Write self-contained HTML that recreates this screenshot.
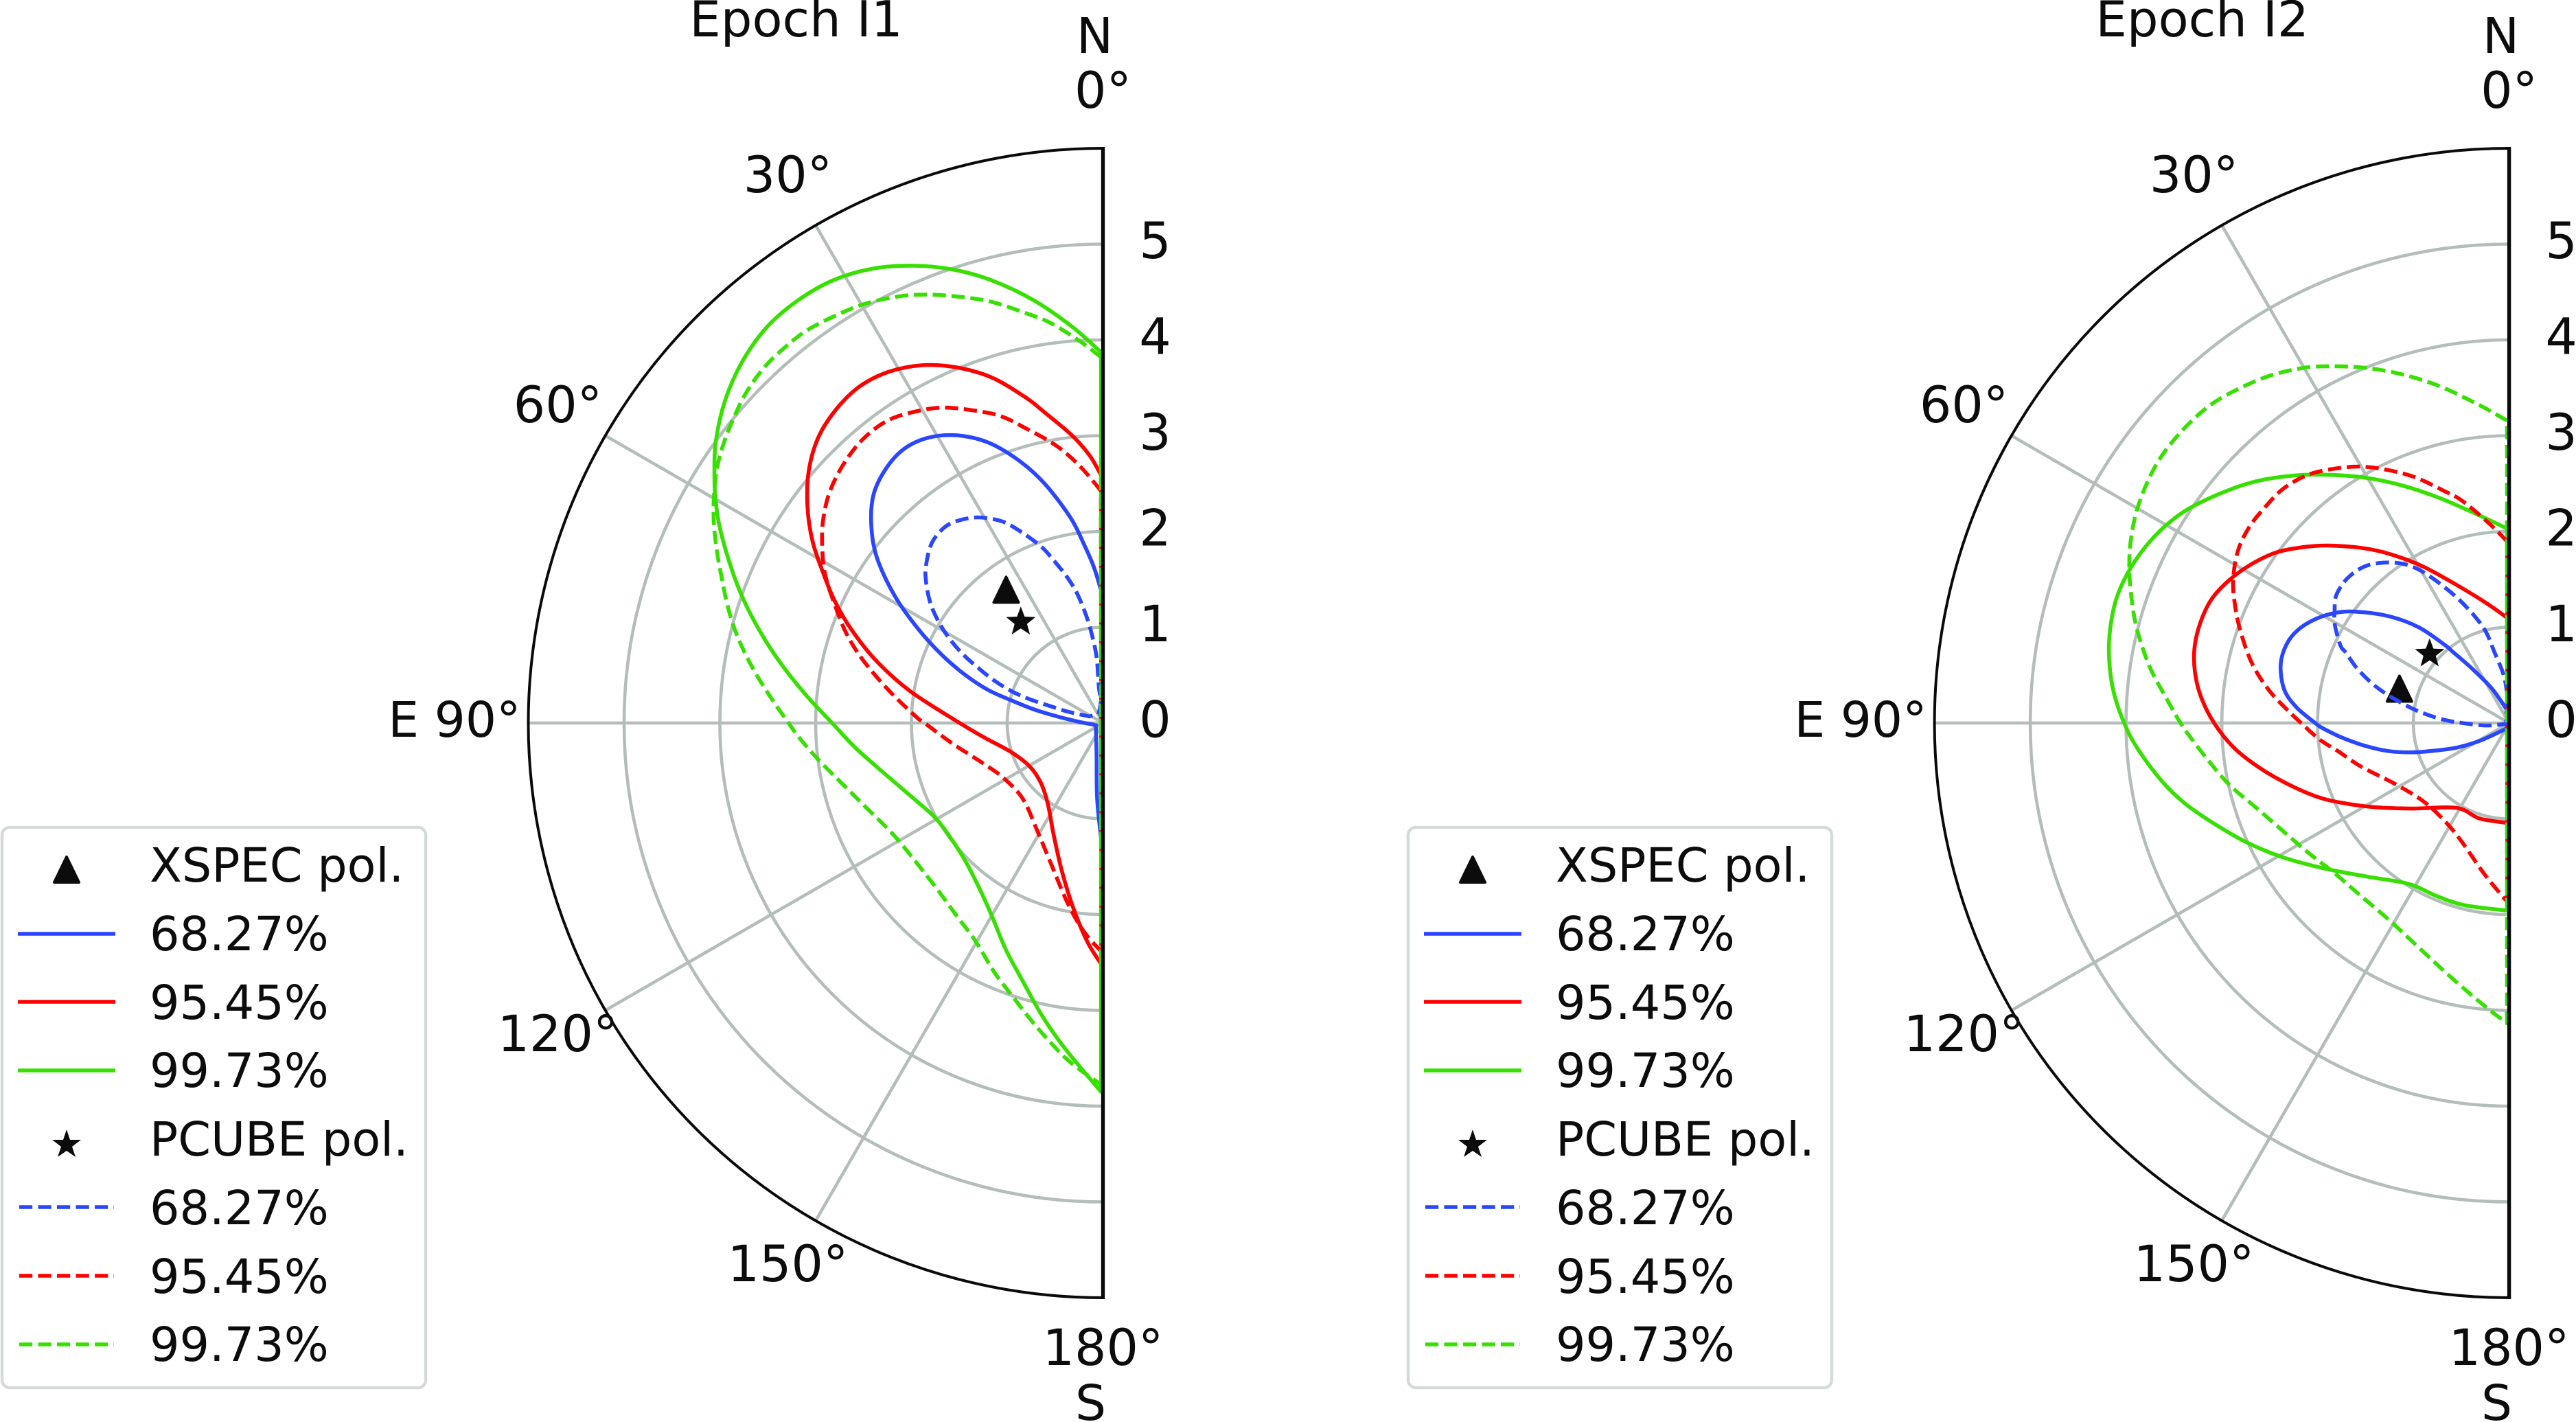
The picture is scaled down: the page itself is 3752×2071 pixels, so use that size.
<!DOCTYPE html>
<html lang="en">
<head>
<meta charset="utf-8">
<title>Polarization contours Epoch I1 and I2</title>
<style>
html,body{margin:0;padding:0;background:#fff;}
svg{display:block;}
text{font-family:"DejaVu Sans","Liberation Sans",sans-serif;fill:#0c0c0c;}
.leg{font-size:68.4px;}
</style>
</head>
<body>
<svg id="chart" xmlns="http://www.w3.org/2000/svg" width="3752" height="2071" viewBox="0 0 3752 2071">
<rect x="0" y="0" width="3752" height="2071" fill="#ffffff"/>
<g id="panels"></g>

<g>
<rect x="3" y="1205" width="617" height="816" rx="11" fill="#fff" stroke="#d3dbd9" stroke-width="4.4"/>
<polygon points="97,1248 79,1285 115,1285" fill="#0c0c0c" stroke="#0c0c0c" stroke-width="4" stroke-linejoin="round"/>
<text class="leg" x="218" y="1284">XSPEC pol.</text>
<line x1="26" x2="168" y1="1360" y2="1360" stroke="#2a46ff" stroke-width="5.6"/>
<text class="leg" x="218" y="1384">68.27%</text>
<line x1="26" x2="168" y1="1459" y2="1459" stroke="#ff0000" stroke-width="5.6"/>
<text class="leg" x="218" y="1484">95.45%</text>
<line x1="26" x2="168" y1="1559" y2="1559" stroke="#37e000" stroke-width="5.6"/>
<text class="leg" x="218" y="1583">99.73%</text>
<polygon points="97,1645 102,1660 118,1660 105,1670 110,1685 97,1676 84,1685 89,1670 76,1660 92,1660" fill="#0c0c0c"/>
<text class="leg" x="218" y="1683">PCUBE pol.</text>
<line x1="28" x2="166" y1="1758" y2="1758" stroke="#2a46ff" stroke-width="5.6" stroke-dasharray="19.2 8.3"/>
<text class="leg" x="218" y="1783">68.27%</text>
<line x1="28" x2="166" y1="1858" y2="1858" stroke="#ff0000" stroke-width="5.6" stroke-dasharray="19.2 8.3"/>
<text class="leg" x="218" y="1883">95.45%</text>
<line x1="28" x2="166" y1="1958" y2="1958" stroke="#37e000" stroke-width="5.6" stroke-dasharray="19.2 8.3"/>
<text class="leg" x="218" y="1982">99.73%</text>
</g>

<g transform="translate(2048,0)">
<rect x="3" y="1205" width="617" height="816" rx="11" fill="#fff" stroke="#d3dbd9" stroke-width="4.4"/>
<polygon points="97,1248 79,1285 115,1285" fill="#0c0c0c" stroke="#0c0c0c" stroke-width="4" stroke-linejoin="round"/>
<text class="leg" x="218" y="1284">XSPEC pol.</text>
<line x1="26" x2="168" y1="1360" y2="1360" stroke="#2a46ff" stroke-width="5.6"/>
<text class="leg" x="218" y="1384">68.27%</text>
<line x1="26" x2="168" y1="1459" y2="1459" stroke="#ff0000" stroke-width="5.6"/>
<text class="leg" x="218" y="1484">95.45%</text>
<line x1="26" x2="168" y1="1559" y2="1559" stroke="#37e000" stroke-width="5.6"/>
<text class="leg" x="218" y="1583">99.73%</text>
<polygon points="97,1645 102,1660 118,1660 105,1670 110,1685 97,1676 84,1685 89,1670 76,1660 92,1660" fill="#0c0c0c"/>
<text class="leg" x="218" y="1683">PCUBE pol.</text>
<line x1="28" x2="166" y1="1758" y2="1758" stroke="#2a46ff" stroke-width="5.6" stroke-dasharray="19.2 8.3"/>
<text class="leg" x="218" y="1783">68.27%</text>
<line x1="28" x2="166" y1="1858" y2="1858" stroke="#ff0000" stroke-width="5.6" stroke-dasharray="19.2 8.3"/>
<text class="leg" x="218" y="1883">95.45%</text>
<line x1="28" x2="166" y1="1958" y2="1958" stroke="#37e000" stroke-width="5.6" stroke-dasharray="19.2 8.3"/>
<text class="leg" x="218" y="1982">99.73%</text>
</g>
</svg>

<script>
// Axis ticks
const radialTicks = [1, 2, 3, 4, 5];
const radialLabels = ['0', '1', '2', '3', '4', '5'];
const angleTicks = [30, 60, 90, 120, 150];
const radialMax = 6;

// Best-fit points (angle in degrees, degree of polarization)
const i1XspecPoint = [36.0, 1.72];
const i1PcubePoint = [39.1, 1.36];
const i2XspecPoint = [72.6, 1.20];
const i2PcubePoint = [49.0, 1.10];

// Epoch I1, XSPEC contours
const i1Xspec68Theta = [0.5,3.3,5.9,8.9,13.5,17.5,22.2,26.8,31.4,35.9,40.4,45.1,49.4,53.8,58.7,63.2,67.2,70.8,74,76.1,78.9,81.8,87.6,104.7,129,168.8,175.6,179.2];
const i1Xspec68R = [1.36,1.627,1.861,2.163,2.555,2.86,3.161,3.364,3.491,3.536,3.492,3.381,3.186,2.925,2.538,2.15,1.817,1.52,1.245,0.986,0.732,0.483,0.239,0.087,0.095,0.344,0.792,1.23];
const i1Xspec95Theta = [0.4,2.9,6.3,10.8,13.3,17.82,22.5,26.9,31.45,35.9,40.4,44.9,49.4,53.8,58,62,65.6,69.7,74.8,80.7,90,96.7,107.8,120.7,134.2,145.9,156.3,164.6,170.9,175.9,179.6];
const i1Xspec95R = [2.585,2.8,3.03,3.31,3.49,3.788,4.021,4.188,4.296,4.336,4.299,4.21,4.046,3.823,3.575,3.301,3.073,2.797,2.445,2.035,1.496,1.256,1.002,0.889,0.902,1.025,1.279,1.61,1.957,2.289,2.518];
const i1Xspec99Theta = [0.3,4.3,9.27,14.24,18.33,22.45,26.96,31.42,35.94,40.44,45.1,49.6,54.06,57.67,60.3,63.3,67.8,71.5,75.5,79.7,84.8,90,95.5,102.5,110.8,119.7,128.1,135.8,144,150.2,156.9,162.7,168.3,173.3,179.7];
const i1Xspec99R = [3.87,4.14,4.47,4.773,4.988,5.166,5.32,5.414,5.442,5.421,5.327,5.184,4.994,4.801,4.654,4.47,4.177,3.939,3.677,3.41,3.104,2.828,2.606,2.357,2.147,2.009,1.994,2.042,2.171,2.329,2.578,2.82,3.124,3.419,3.85];

// Epoch I1, PCUBE contours
const i1Pcube68Theta = [27.3,6.4,6.5,5.5,6.1,8.3,11.1,13.7,16.8,19.5,24.1,27,31.3,35.6,39.1,43.6,48.3,51.3,55.2,58.4,61.2,63.7,65.8,68.5,70.8,72,72.2,72,64.4];
const i1Pcube68R = [0.105,0.214,0.382,0.623,0.791,1.073,1.362,1.56,1.772,1.964,2.223,2.371,2.513,2.598,2.629,2.593,2.474,2.368,2.195,2.013,1.83,1.641,1.456,1.234,1.013,0.805,0.578,0.378,0.16];
const i1Pcube95Theta = [0.5,4.6,8.1,11,14.8,17.5,20.4,26.3,30.5,35.3,40.2,45.1,49.9,54.2,58.3,61.9,65.7,70.7,75.3,81.2,88.1,90,97.4,108.8,118.7,133.3,148.1,159.6,167.6,172.2,175.8,179.6];
const i1Pcube95R = [2.425,2.661,2.86,3.006,3.187,3.332,3.456,3.673,3.783,3.875,3.881,3.826,3.734,3.604,3.444,3.288,3.086,2.841,2.591,2.269,1.951,1.862,1.597,1.317,1.188,1.151,1.309,1.562,1.858,2.068,2.231,2.386];
const i1Pcube99Theta = [0.3,3.6,7.43,10.69,14.77,18.09,21.96,25.5,29.5,33,37,40.3,43.5,47.1,50.3,53.5,56.5,59.7,62.6,65.8,69.1,73.1,76.9,81.3,86.2,90,92.6,97.3,103.4,109.4,118.2,127.9,135.7,143.4,149.5,156.5,161.4,166.4,170.7,174.5,179.7];
const i1Pcube99R = [3.82,4.0,4.21,4.356,4.546,4.676,4.822,4.936,5.031,5.084,5.134,5.139,5.129,5.079,5.004,4.923,4.831,4.704,4.577,4.422,4.262,4.087,3.911,3.691,3.451,3.282,3.182,2.998,2.786,2.63,2.478,2.432,2.455,2.535,2.633,2.84,2.996,3.192,3.381,3.558,3.776];

// Epoch I2, XSPEC contours
const i2Xspec68Theta = [4.9,26.4,34.4,38.3,39.4,43.3,48.3,54,58,62.8,67.4,71.9,76.4,81.7,85.8,90,91.8,95.2,99.2,103.2,106.8,110.4,115.4,121.5,168];
const i2Xspec68R = [0.117,0.398,0.693,0.942,1.048,1.37,1.673,1.978,2.163,2.326,2.431,2.471,2.455,2.37,2.225,2.025,1.935,1.739,1.512,1.288,1.059,0.827,0.593,0.348,0.05];
const i2Xspec95Theta = [1,11.4,20.8,28.8,34.8,39.7,45.2,49,53.6,58.2,62.9,67.5,72.1,76.6,81,85.4,90,94.8,99.3,104.5,110.9,116,122.2,131.3,148.3,162.5,178.9];
const i2Xspec95R = [1.098,1.288,1.541,1.864,2.14,2.371,2.629,2.805,3.007,3.156,3.28,3.366,3.39,3.377,3.32,3.222,3.08,2.899,2.69,2.44,2.153,1.912,1.65,1.353,1.042,1.043,1.043];
const i2Xspec99Theta = [0.6,8.2,17.1,24.5,31,36.6,40.6,45.3,49.3,54.7,58.5,62.9,67.5,72,76.5,80.8,85.6,90.6,94.5,99.6,103.9,108.6,114.4,120.7,128.3,137.2,148.1,157.4,166.4,179.4];
const i2Xspec99R = [2.03,2.191,2.456,2.73,2.995,3.229,3.406,3.611,3.77,3.97,4.094,4.197,4.268,4.301,4.282,4.231,4.14,4.002,3.867,3.672,3.489,3.265,3.013,2.746,2.452,2.185,1.979,1.958,1.958,1.958];

// Epoch I2, PCUBE contours
const i2Pcube68Theta = [4,6.5,11.7,14.7,19.8,24.6,29.7,33.6,38,42.8,48.2,53.6,57.4,60.5,65.3,66.6,70.2,74.1,77.2,81,83.9,87.2,90,96,108];
const i2Pcube68R = [0.31,0.503,0.755,1.007,1.269,1.525,1.816,1.994,2.125,2.226,2.266,2.243,2.163,2.092,1.939,1.861,1.689,1.477,1.286,1.051,0.876,0.68,0.488,0.25,0.033];
const i2Pcube95Theta = [0.6,5.4,11.9,15.9,21,25.8,30.4,35.6,39.5,44,48.3,53,57.6,62.6,66.9,71.3,77,82.2,86.9,90,94.9,99.6,106.5,118.1,132.2,147.2,158.6,170.8,179.4];
const i2Pcube95R = [1.894,2.081,2.37,2.526,2.75,2.936,3.104,3.252,3.344,3.398,3.402,3.398,3.354,3.246,3.11,2.958,2.754,2.532,2.307,2.172,1.989,1.802,1.609,1.35,1.213,1.227,1.339,1.601,1.868];
const i2Pcube99Theta = [0.4,5.4,11.6,16.9,21.8,26.6,30.2,34.7,39.5,43.7,48.8,53.7,59,63.5,67.6,71.7,75.9,81.1,86.3,90,92.9,97.5,102.5,108.2,115.5,122.8,130.3,138.6,148.7,158.5,167.2,175.1,179.6];
const i2Pcube99R = [3.157,3.336,3.588,3.801,3.992,4.166,4.288,4.407,4.498,4.56,4.581,4.567,4.499,4.405,4.29,4.153,4.005,3.799,3.571,3.431,3.318,3.151,2.99,2.795,2.617,2.497,2.407,2.378,2.409,2.534,2.725,2.967,3.135];

const SVG_NS = 'http://www.w3.org/2000/svg';
const OUTER_RADIUS = 837;
const BLUE = '#2a46ff', RED = '#ff0000', GREEN = '#37e000', GRID = '#b3bdb9', INK = '#0a0a0a';

function node(tag, parent, attrs) {
  const el = document.createElementNS(SVG_NS, tag);
  for (const k in attrs) el.setAttribute(k, attrs[k]);
  parent.appendChild(el);
  return el;
}
function radiusScale(r) { return r / radialMax * OUTER_RADIUS; }
function polar(panel, thetaDeg, r) {
  const a = thetaDeg * Math.PI / 180, p = radiusScale(r);
  return [panel.cx - p * Math.sin(a), panel.cy - p * Math.cos(a)];
}
function smoothClosed(pts) {
  let d = 'M' + pts[0][0].toFixed(1) + ' ' + pts[0][1].toFixed(1);
  for (let i = 0; i < pts.length - 1; i++) {
    const p0 = pts[Math.max(i - 1, 0)], p1 = pts[i], p2 = pts[i + 1], p3 = pts[Math.min(i + 2, pts.length - 1)];
    const c1 = [p1[0] + (p2[0] - p0[0]) / 6, p1[1] + (p2[1] - p0[1]) / 6];
    const c2 = [p2[0] - (p3[0] - p1[0]) / 6, p2[1] - (p3[1] - p1[1]) / 6];
    d += 'C' + c1[0].toFixed(1) + ' ' + c1[1].toFixed(1) + ' ' + c2[0].toFixed(1) + ' ' + c2[1].toFixed(1) + ' ' + p2[0].toFixed(1) + ' ' + p2[1].toFixed(1);
  }
  return d + 'Z';
}
function drawLabel(parent, panel, name, str, dx, y, size, anchor) {
  const t = node('text', parent, {x: panel.cx + dx, y: y, 'font-size': size, 'text-anchor': anchor});
  
  
  t.textContent = str;
}
function drawPanel(panel) {
  const root = document.getElementById('panels');
  const g = node('g', root, {});
  
  

  radialTicks.forEach(function (r) {
    const top = polar(panel, 0, r), bot = polar(panel, 180, r), pr = radiusScale(r);
    const c = node('path', g, {d: 'M' + top[0] + ' ' + top[1] + 'A' + pr + ' ' + pr + ' 0 0 0 ' + bot[0] + ' ' + bot[1], fill: 'none', stroke: GRID, 'stroke-width': 4.6});
    
    
  });
  angleTicks.forEach(function (a) {
    const o = polar(panel, a, 0), e = polar(panel, a, radialMax);
    const l = node('line', g, {x1: o[0], y1: o[1], x2: e[0], y2: e[1], stroke: GRID, 'stroke-width': 4.6});
    
    
  });

  const tri = polar(panel, panel.xspec[0], panel.xspec[1]);
  const triangle = node('polygon', g, {points: [[tri[0], tri[1] - 18.5], [tri[0] - 18, tri[1] + 18.5], [tri[0] + 18, tri[1] + 18.5]].map(function (p) { return p.join(','); }).join(' '), fill: '#0c0c0c', stroke: '#0c0c0c', 'stroke-width': 4, 'stroke-linejoin': 'round'});
  
  

  const st = polar(panel, panel.pcube[0], panel.pcube[1]);
  const starPts = [];
  for (let i = 0; i < 10; i++) {
    const rad = i % 2 ? 9.5 : 22.5, ang = i * Math.PI / 5;
    starPts.push((st[0] + rad * Math.sin(ang)).toFixed(1) + ',' + (st[1] - rad * Math.cos(ang)).toFixed(1));
  }
  const star = node('polygon', g, {points: starPts.join(' '), fill: '#0c0c0c'});
  
  

  panel.curves.forEach(function (c) {
    const pts = c.theta.map(function (t, i) { return polar(panel, t, c.r[i]); });
    const attrs = {d: smoothClosed(pts), fill: 'none', stroke: c.color, 'stroke-width': 5.6, 'stroke-linejoin': 'round'};
    if (c.dashed) attrs['stroke-dasharray'] = '19.2 8.3';
    const path = node('path', g, attrs);
    
    
  });

  const top = polar(panel, 0, radialMax), bot = polar(panel, 180, radialMax);
  const arc = node('path', g, {d: 'M' + top[0] + ' ' + top[1] + 'A' + OUTER_RADIUS + ' ' + OUTER_RADIUS + ' 0 0 0 ' + bot[0] + ' ' + bot[1], fill: 'none', stroke: INK, 'stroke-width': 4});
  
  
  const spine = node('line', g, {x1: top[0], y1: top[1] - 2, x2: bot[0], y2: bot[1] + 2, stroke: INK, 'stroke-width': 5.4});
  
  

  radialLabels.forEach(function (s) {
    const y = polar(panel, 0, Number(s))[1] + 20.5;
    drawLabel(g, panel, 'radial-tick-label-' + s, s, 76, y, 73, 'middle');
  });
  drawLabel(g, panel, 'north-label', 'N', -12, 77, 71, 'middle');
  drawLabel(g, panel, 'angle-label-0', '0°', 0, 157, 73, 'middle');
  drawLabel(g, panel, 'angle-label-30', '30°', -459, 280, 73, 'middle');
  drawLabel(g, panel, 'angle-label-60', '60°', -794, 615, 73, 'middle');
  drawLabel(g, panel, 'angle-label-east-90', 'E 90°', -848, 1073, 71, 'end');
  drawLabel(g, panel, 'angle-label-120', '120°', -794, 1531, 73, 'middle');
  drawLabel(g, panel, 'angle-label-150', '150°', -459, 1866, 73, 'middle');
  drawLabel(g, panel, 'angle-label-180', '180°', 0, 1988, 73, 'middle');
  drawLabel(g, panel, 'south-label', 'S', -18, 2068, 71, 'middle');
  drawLabel(g, panel, 'panel-title', panel.title, -447, 53, 72, 'middle');
}

drawPanel({
  name: 'polar-panel-epoch-i1', title: 'Epoch I1', cx: 1606.5, cy: 1053,
  xspec: i1XspecPoint, pcube: i1PcubePoint,
  curves: [
    {name: 'xspec-68', color: BLUE, dashed: false, theta: i1Xspec68Theta, r: i1Xspec68R},
    {name: 'xspec-95', color: RED, dashed: false, theta: i1Xspec95Theta, r: i1Xspec95R},
    {name: 'xspec-99', color: GREEN, dashed: false, theta: i1Xspec99Theta, r: i1Xspec99R},
    {name: 'pcube-68', color: BLUE, dashed: true, theta: i1Pcube68Theta, r: i1Pcube68R},
    {name: 'pcube-95', color: RED, dashed: true, theta: i1Pcube95Theta, r: i1Pcube95R},
    {name: 'pcube-99', color: GREEN, dashed: true, theta: i1Pcube99Theta, r: i1Pcube99R}
  ]
});
drawPanel({
  name: 'polar-panel-epoch-i2', title: 'Epoch I2', cx: 3654.6, cy: 1053,
  xspec: i2XspecPoint, pcube: i2PcubePoint,
  curves: [
    {name: 'xspec-68', color: BLUE, dashed: false, theta: i2Xspec68Theta, r: i2Xspec68R},
    {name: 'xspec-95', color: RED, dashed: false, theta: i2Xspec95Theta, r: i2Xspec95R},
    {name: 'xspec-99', color: GREEN, dashed: false, theta: i2Xspec99Theta, r: i2Xspec99R},
    {name: 'pcube-68', color: BLUE, dashed: true, theta: i2Pcube68Theta, r: i2Pcube68R},
    {name: 'pcube-95', color: RED, dashed: true, theta: i2Pcube95Theta, r: i2Pcube95R},
    {name: 'pcube-99', color: GREEN, dashed: true, theta: i2Pcube99Theta, r: i2Pcube99R}
  ]
});
</script>
</body>
</html>
